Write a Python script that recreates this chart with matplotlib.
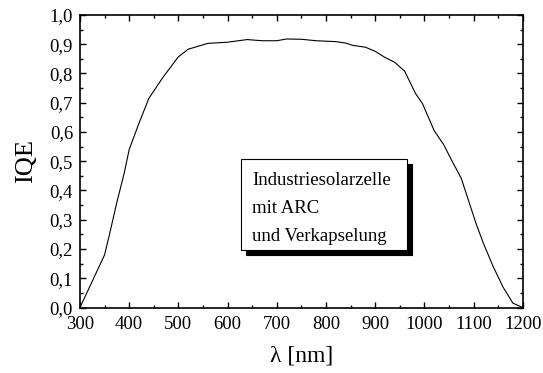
import matplotlib
matplotlib.use("Agg")
import matplotlib.pyplot as plt
from matplotlib.patches import Rectangle
from matplotlib.ticker import MultipleLocator, FuncFormatter

# Internal quantum efficiency of an industrial solar cell
wavelength_nm = [300, 325, 350, 360, 375, 390, 400, 420, 440, 470, 500, 520,
                 550, 560, 600, 640, 670, 700, 720, 750, 780, 820, 840, 855,
                 880, 900, 920, 940, 960, 982, 996, 1020, 1040, 1055, 1075,
                 1105, 1120, 1140, 1160, 1180, 1200]
iqe = [0.0, 0.09, 0.18, 0.25, 0.36, 0.46, 0.54, 0.63, 0.715, 0.79, 0.857, 0.883,
       0.898, 0.903, 0.907, 0.916, 0.912, 0.912, 0.918, 0.917, 0.912, 0.909, 0.904, 0.896,
       0.89, 0.876, 0.855, 0.838, 0.808, 0.732, 0.698, 0.605, 0.555, 0.505, 0.442,
       0.288, 0.22, 0.14, 0.07, 0.015, 0.0]

box_lines = ["Industriesolarzelle", "mit ARC", "und Verkapselung"]

plt.rcParams["font.family"] = ["Liberation Serif", "DejaVu Serif"]

fig = plt.figure(figsize=(5.43, 3.73), dpi=100)
ax = fig.add_axes([0.1473, 0.1756, 0.9626 - 0.1473, 0.9598 - 0.1756])

ax.plot(wavelength_nm, iqe, color="black", lw=0.8)

ax.set_xlim(300, 1200)
ax.set_ylim(0, 1.0)
ax.xaxis.set_major_locator(MultipleLocator(100))
ax.xaxis.set_minor_locator(MultipleLocator(50))
ax.yaxis.set_major_locator(MultipleLocator(0.1))
ax.yaxis.set_minor_locator(MultipleLocator(0.05))
ax.yaxis.set_major_formatter(FuncFormatter(lambda v, p: f"{v:.1f}".replace(".", ",")))

ax.tick_params(which="both", direction="in", top=True, right=True, width=1.0, colors="black")
ax.tick_params(which="major", length=4, labelsize=13.5, pad=5)
ax.tick_params(which="minor", length=2)
ax.tick_params(axis="x", which="major", pad=6)
for s in ax.spines.values():
    s.set_linewidth(1.2)

ax.set_xlabel("λ [nm]", fontsize=17, labelpad=9)
ax.set_ylabel("IQE", fontsize=19, labelpad=9)

# annotation box with drop shadow
bx0, bx1, by0, by1 = 627, 964, 0.197, 0.509
ax.add_patch(Rectangle((bx0 + 10, by0 - 0.017), bx1 - bx0, by1 - by0,
                       facecolor="black", edgecolor="black", lw=0.8, zorder=3))
ax.add_patch(Rectangle((bx0, by0), bx1 - bx0, by1 - by0,
                       facecolor="white", edgecolor="black", lw=0.8, zorder=4))
for i, line in enumerate(box_lines):
    ax.text(650, 0.419 - i * 0.0957, line, fontsize=13.5, ha="left", va="baseline", zorder=5)

fig.savefig("out.png", dpi=100)
